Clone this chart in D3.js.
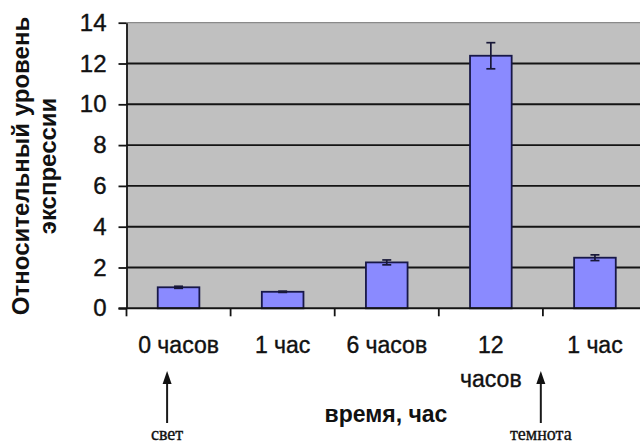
<!DOCTYPE html>
<html><head><meta charset="utf-8">
<script src="https://cdn.jsdelivr.net/npm/d3@7/dist/d3.min.js"></script>
<style>body{margin:0;background:#fff}svg{display:block}</style>
</head><body>
<script>
const categories = ["0 часов","1 час","6 часов","12\nчасов","1 час"];
const values = [1.03, 0.81, 2.25, 12.38, 2.48];
const errors = [0.05, 0.03, 0.12, 0.64, 0.14];
const yTicks = [0,2,4,6,8,10,12,14];
const annotations = [{label:"свет", pos:0.39}, {label:"темнота", pos:3.98}];
const yTitle = ["Относительный уровень","экспрессии"];
const xTitle = "время, час";

const W=640,H=443;
const svg=d3.select("body").append("svg").attr("width",W).attr("height",H);
const L=126.5, T=22.7, B=308.3, R=647;
const x=d3.scaleBand().domain(d3.range(categories.length)).range([L,R]).paddingInner(0.6).paddingOuter(0.3);
const xu=d3.scaleLinear().domain([0,categories.length]).range([L,R]);
const y=d3.scaleLinear().domain([0,14]).range([B,T]);
const sans="Liberation Sans, Arial, sans-serif";

svg.append("rect").attr("x",L).attr("y",T).attr("width",R-L).attr("height",B-T).attr("fill","#c0c0c0");
svg.append("line").attr("x1",L).attr("x2",R).attr("y1",y(14)).attr("y2",y(14)).attr("stroke","#8a8a8a").attr("stroke-width",1.2);
svg.selectAll(".grid").data(yTicks.filter(d=>d>0&&d<14)).enter().append("line")
 .attr("x1",L).attr("x2",R).attr("y1",d=>y(d)).attr("y2",d=>y(d)).attr("stroke","#141414").attr("stroke-width",1.9);

// bars
svg.selectAll(".bar").data(values).enter().append("rect")
 .attr("x",(d,i)=>x(i)).attr("y",d=>y(d)).attr("width",x.bandwidth()).attr("height",d=>B-y(d))
 .attr("fill","#8a8aff").attr("stroke","#181848").attr("stroke-width",1.8);
// error bars
const eg=svg.append("g").attr("stroke","#181838").attr("stroke-width",1.7);
values.forEach((v,i)=>{
  const cx=x(i)+x.bandwidth()/2;
  eg.append("line").attr("x1",cx).attr("x2",cx).attr("y1",y(v+errors[i])).attr("y2",y(v-errors[i]));
  [v+errors[i],v-errors[i]].forEach(e=>eg.append("line").attr("x1",cx-4.5).attr("x2",cx+4.5).attr("y1",y(e)).attr("y2",y(e)));
});

// y axis
const ya=svg.append("g").attr("transform",`translate(${L},0)`)
 .call(d3.axisLeft(y).tickValues(yTicks).tickSize(8).tickSizeOuter(0).tickPadding(12));
ya.select(".domain").attr("stroke","#141414").attr("stroke-width",1.8);
ya.selectAll(".tick line").attr("stroke","#141414").attr("stroke-width",1.8);
ya.selectAll(".tick text").attr("font-family",sans).attr("font-size",24).attr("fill","#111")
 .attr("stroke","#111").attr("stroke-width",0.4);

// x axis
svg.append("line").attr("x1",L-8).attr("x2",R).attr("y1",B).attr("y2",B).attr("stroke","#141414").attr("stroke-width",1.9);
svg.selectAll(".xt").data(d3.range(categories.length)).enter().append("line")
 .attr("x1",d=>xu(d)).attr("x2",d=>xu(d)).attr("y1",B).attr("y2",B+8).attr("stroke","#141414").attr("stroke-width",1.8);
categories.forEach((c,i)=>{
  const t=svg.append("text").attr("x",x(i)+x.bandwidth()/2).attr("y",353).attr("text-anchor","middle")
   .attr("font-family",sans).attr("font-size",23).attr("fill","#111").attr("stroke","#111").attr("stroke-width",0.4);
  c.split("\n").forEach((ln,k)=>t.append("tspan").attr("x",x(i)+x.bandwidth()/2).attr("dy",k?34:0).text(ln));
});

// annotations
annotations.forEach(a=>{
  const ax=xu(a.pos);
  svg.append("line").attr("x1",ax).attr("x2",ax).attr("y1",423).attr("y2",380).attr("stroke","#1a1a1a").attr("stroke-width",2);
  svg.append("path").attr("d",`M${ax},371 L${ax-4.5},384 L${ax+4.5},384 Z`).attr("fill","#111");
  svg.append("text").attr("x",ax).attr("y",440).attr("text-anchor","middle")
   .attr("font-family","Liberation Serif, Times New Roman, serif").attr("font-size",18).attr("fill","#111")
   .attr("stroke","#111").attr("stroke-width",0.35).text(a.label);
});

// titles
svg.append("text").attr("x",386).attr("y",422).attr("text-anchor","middle")
 .attr("font-family",sans).attr("font-weight","bold").attr("font-size",23).attr("fill","#111").text(xTitle);
const yt=svg.append("text").attr("transform","translate(29,166) rotate(-90)").attr("text-anchor","middle")
 .attr("font-family",sans).attr("font-weight","bold").attr("font-size",24).attr("fill","#111")
 .attr("textLength",null);
yTitle.forEach((ln,k)=>yt.append("tspan").attr("x",0).attr("dy",k?27:0).text(ln));
</script>
</body></html>
